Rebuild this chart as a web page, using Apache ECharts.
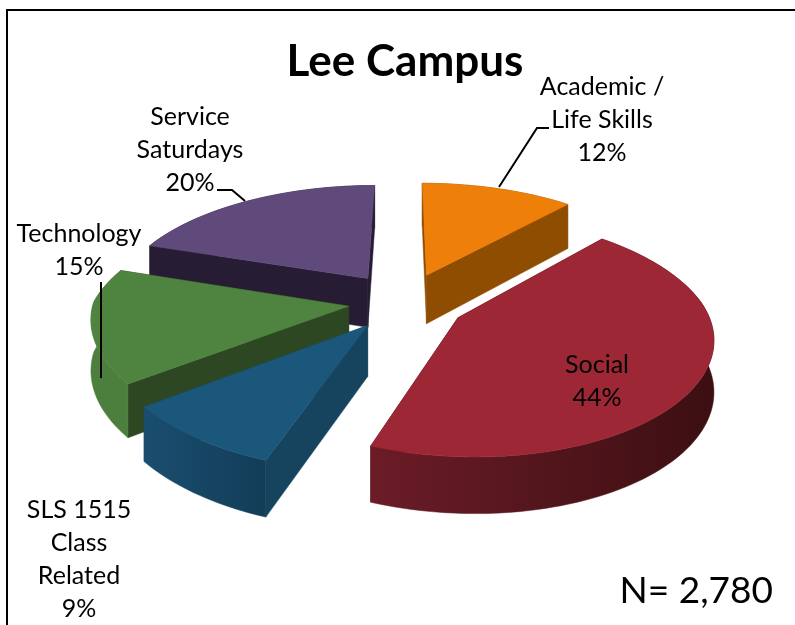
<!DOCTYPE html>
<html>
<head>
<meta charset="utf-8">
<style>
  html, body { margin: 0; padding: 0; background: #fff; }
  #chart { width: 795px; height: 625px; }
</style>
<script src="https://cdn.jsdelivr.net/npm/echarts@6/dist/echarts.min.js"></script>
</head>
<body>
<div id="chart"></div>
<script>
// data, clockwise from 12 o'clock
const categories = ['Academic /\nLife Skills', 'Social', 'SLS 1515\nClass\nRelated', 'Technology', 'Service\nSaturdays'];
const shares = [12, 44, 9, 15, 20];
const total = 2780;

// look of each slice: top face, radial wall, outer wall left/right
const topColors = ['#EE7F08', '#9D2735', '#1B577B', '#4F8340', '#604A7B'];
const sideColors = ['#8F4D02', '#3C0F12', '#16435E', '#2C4722', '#261C33'];
const wallLeft = ['#8F4D02', '#6B1C27', '#1A4D6F', '#4C7F3E', '#261C33'];
const wallRight = ['#8F4D02', '#3C0F12', '#123D58', '#4C7F3E', '#261C33'];
const explode = [0.25, 0.24, 0.24, 0.22, 0.25];
const radius = [1, 0.97, 1, 1, 1];
const drawOrder = [4, 3, 0, 2, 1]; // back to front
const labelPos = [[602, 120], [597, 381], [79, 559], [79, 250], [190, 150]];

// projection of the tilted pie
const cx = 404, cy = 302, Rx = 255, Ry = 120, persY = 0.16, depth = 50;
function project(u, v) {
  const persX = v < 0 ? 0.18 : 0.13;
  const skew = v > 0 ? 11 * v : 0;
  return [cx + u * Rx * (1 + persX * v) + skew, cy + v * Ry * (1 + persY * v)];
}
function drop(p, v) {
  return [p[0], p[1] + depth * (1 + 0.12 * v)];
}

const sum = shares.reduce((a, b) => a + b, 0);
const startAngles = [];
shares.reduce((acc, s, i) => { startAngles[i] = acc; return acc + s / sum * Math.PI * 2; }, 0);

function renderSlice(params) {
  const i = drawOrder[params.dataIndex];
  const a0 = startAngles[i];
  const a1 = a0 + shares[i] / sum * Math.PI * 2;
  const mid = (a0 + a1) / 2;
  const ou = explode[i] * Math.sin(mid), ov = -explode[i] * Math.cos(mid);

  const arc = [];
  const steps = Math.max(4, Math.round((a1 - a0) / 0.03));
  for (let k = 0; k <= steps; k++) {
    const a = a0 + (a1 - a0) * k / steps;
    const u = ou + radius[i] * Math.sin(a), v = ov - radius[i] * Math.cos(a);
    arc.push({ top: project(u, v), low: drop(project(u, v), v) });
  }
  const apexTop = project(ou, ov);
  const apexLow = drop(apexTop, ov);
  const first = arc[0], last = arc[arc.length - 1];
  const quad = (pts, fill) => ({ type: 'polygon', shape: { points: pts }, style: { fill: fill, stroke: fill, lineWidth: 0.5 } });

  // walls first, the top face hides whatever faces away from us
  const wall = arc.map(p => p.top).concat(arc.map(p => p.low).reverse());
  const wallFill = new echarts.graphic.LinearGradient(1, 0, 0, 0, [
    { offset: 0, color: wallRight[i] }, { offset: 1, color: wallLeft[i] }
  ]);
  const children = [
    quad([apexTop, first.top, first.low, apexLow], sideColors[i]),
    quad([apexTop, last.top, last.low, apexLow], sideColors[i]),
    quad(wall, wallFill),
    quad([apexTop].concat(arc.map(p => p.top)), topColors[i])
  ];
  return { type: 'group', children: children };
}

const font = 'Lato, Carlito, "Open Sans", sans-serif';
const labels = categories.map((name, i) => ({
  type: 'text',
  x: labelPos[i][0],
  y: labelPos[i][1],
  z: 20,
  style: {
    text: name + '\n' + shares[i] + '%',
    fill: '#000',
    font: '25px ' + font,
    lineHeight: 33,
    align: 'center',
    verticalAlign: 'middle'
  }
}));

const line = (points) => ({
  type: 'polyline',
  z: 15,
  shape: { points: points },
  style: { stroke: '#000', lineWidth: 2, fill: null }
});

const myChart = echarts.init(document.getElementById('chart'), null, { renderer: 'canvas' });
myChart.setOption({
  animation: false,
  backgroundColor: '#fff',
  title: {
    text: 'Lee Campus',
    left: 400,
    top: 35,
    textAlign: 'center',
    textStyle: { fontFamily: font, fontSize: 44, fontWeight: 'bold', color: '#000' }
  },
  graphic: [
    // chart frame, cut off on the right and at the bottom
    { type: 'polyline', shape: { points: [[7, 625], [7, 10], [795, 10]] }, style: { stroke: '#000', lineWidth: 2, fill: null } },
    line([[499, 187], [537, 128], [549, 128]]),
    line([[217, 190], [232, 190], [245, 201]]),
    line([[101, 282], [101, 378]]),
    ...labels,
    {
      type: 'text', x: 773, y: 591, z: 20,
      style: {
        text: 'N= ' + total.toLocaleString('en-US'),
        fill: '#000',
        font: '37px ' + font,
        align: 'right',
        verticalAlign: 'middle'
      }
    }
  ],
  series: [{
    type: 'custom',
    coordinateSystem: 'none',
    silent: true,
    renderItem: renderSlice,
    data: drawOrder.map(i => [shares[i]])
  }]
});
</script>
</body>
</html>
